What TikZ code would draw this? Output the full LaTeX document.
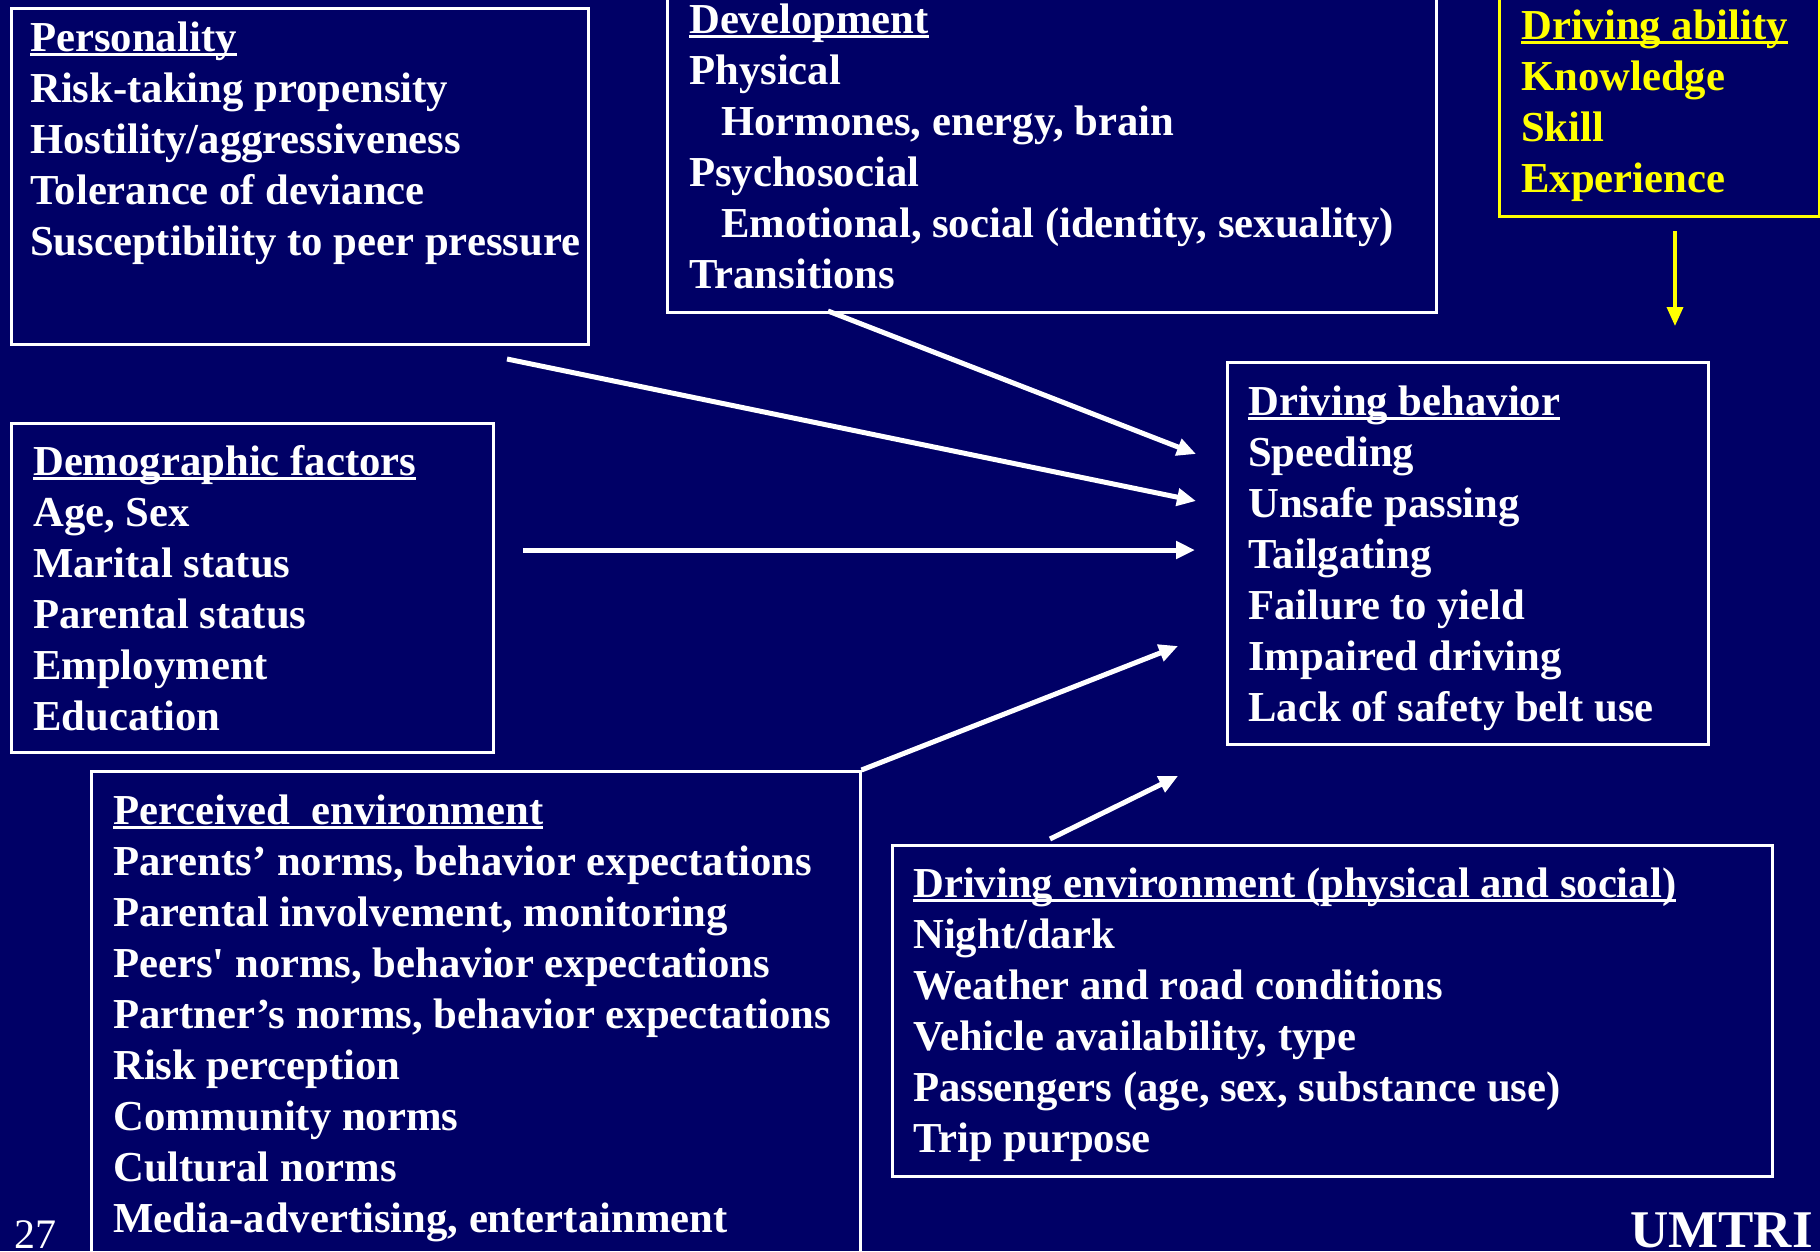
\documentclass[tikz,border=0pt]{standalone}
\usepackage{fontspec}
\setmainfont{Liberation Serif}
\usetikzlibrary{arrows.meta}
\definecolor{navy}{RGB}{0,0,102}
\definecolor{ylw}{RGB}{255,255,0}
\newcommand\hdr[1]{\setbox0\hbox{#1}\rlap{\rule[-4.5pt]{\wd0}{3pt}}\box0}
\newcommand\ind{\hspace*{32pt}}
\begin{document}
\begin{tikzpicture}[x=1pt,y=-1pt,
  box/.style={draw=white, line width=2.5pt, anchor=north west, inner sep=0pt},
  ybox/.style={box, draw=ylw},
  txt/.style={anchor=base west, inner sep=0pt, align=left, text=white,
    font=\bfseries\fontsize{42.7}{51}\selectfont},
  ytxt/.style={txt, text=ylw},
  arr/.style={draw=white, line width=5pt, -{Triangle[length=19pt,width=17pt]}},
  yarr/.style={draw=ylw, line width=3.5pt, -{Triangle[length=19pt,width=16pt]}}]
\fill[navy] (0,0) rectangle (1820,1251);
\useasboundingbox (0,0) rectangle (1820,1251);

% boxes
\node[box, minimum width=577pt, minimum height=336pt] (pers) at (10,7) {};
\node[box, minimum width=769pt, minimum height=316pt] (dev) at (666,-5) {};
\node[ybox, minimum width=320pt, minimum height=218pt] (abil) at (1498,-3) {};
\node[box, minimum width=481pt, minimum height=382pt] (beh) at (1226,361) {};
\node[box, minimum width=482pt, minimum height=329pt] (demo) at (10,422) {};
\node[box, minimum width=769pt, minimum height=500pt] (perc) at (90,770) {};
\node[box, minimum width=880pt, minimum height=331pt] (denv) at (891,844) {};

% texts (anchored at the baseline of their last line)
\node[txt] (perst) at (30,255) {\hdr{Personality}\\Risk-taking propensity\\Hostility/aggressiveness\\Tolerance of deviance\\Susceptibility to peer pressure};
\node[txt] (devt) at (689,288) {\hdr{Development}\\Physical\\\ind Hormones, energy, brain\\Psychosocial\\\ind Emotional, social (identity, sexuality)\\Transitions};
\node[ytxt] (abilt) at (1521,192) {\hdr{Driving ability}\\Knowledge\\Skill\\Experience};
\node[txt] (beht) at (1248,721) {\hdr{Driving behavior}\\Speeding\\Unsafe passing\\Tailgating\\Failure to yield\\Impaired driving\\Lack of safety belt use};
\node[txt] (demot) at (33,730) {\hdr{Demographic factors}\\Age, Sex\\Marital status\\Parental status\\Employment\\Education};
\node[txt] (perct) at (113,1232) {\hdr{Perceived\ \ environment}\\Parents’ norms, behavior expectations\\Parental involvement, monitoring\\Peers\textquotesingle\ norms, behavior expectations\\Partner’s norms, behavior expectations\\Risk perception\\Community norms\\Cultural norms\\Media-advertising, entertainment};
\node[txt] (denvt) at (913,1152) {\hdr{Driving environment (physical and social)}\\Night/dark\\Weather and road conditions\\Vehicle availability, type\\Passengers (age, sex, substance use)\\Trip purpose};
\node[anchor=base west, inner sep=0pt, text=white, font=\fontsize{42}{51}\selectfont] (pnum) at (14,1248) {27};
\node[anchor=base west, inner sep=0pt, text=white, font=\bfseries\fontsize{53}{60}\selectfont] (umtri) at (1630,1247) {UMTRI};

% connector end points
\coordinate (a1s) at (828,311);
\coordinate (a1e) at (1196,454);
\coordinate (a2s) at (507,359);
\coordinate (a2e) at (1196,501);
\coordinate (a3s) at (523,550);
\coordinate (a3e) at (1195,550);
\coordinate (a4e) at (1178,646);
\coordinate (a5s) at (1050,839);
\coordinate (a5e) at (1178,776);
\coordinate (a6s) at (1675,231);
\coordinate (a6e) at (1675,326);

\draw[arr] (a1s) -- (a1e);
\draw[arr] (a2s) -- (a2e);
\draw[arr] (a3s) -- (a3e);
\draw[arr] (perc.north east) -- (a4e);
\draw[arr] (a5s) -- (a5e);
\draw[yarr] (a6s) -- (a6e);
\end{tikzpicture}
\end{document}
